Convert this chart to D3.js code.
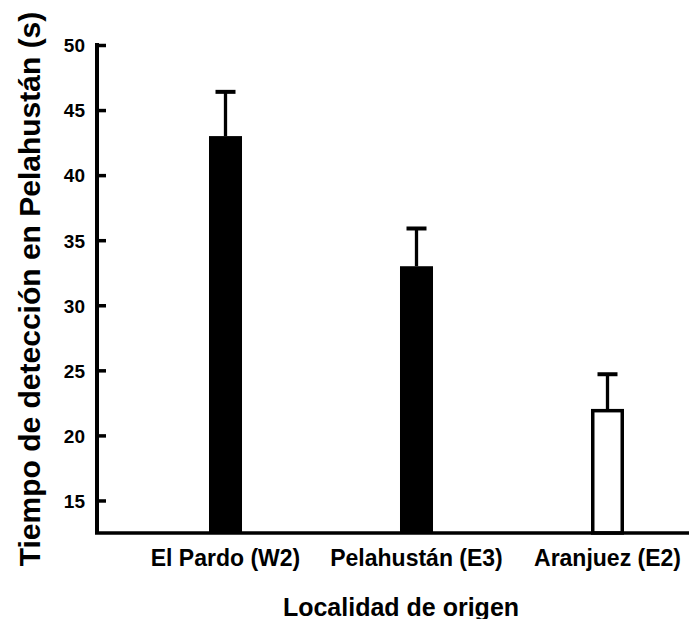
<!DOCTYPE html>
<html>
<head>
<meta charset="utf-8">
<script src="https://cdn.jsdelivr.net/npm/d3@7"></script>
<style>
  html, body { margin: 0; padding: 0; background: #fff; }
  svg { display: block; }
  text { font-family: "Liberation Sans", Arial, sans-serif; font-weight: bold; fill: #000; }
</style>
</head>
<body>
<svg id="chart" width="689" height="619"></svg>
<script>
// ---- data ----
const categories = ["El Pardo (W2)", "Pelahustán (E3)", "Aranjuez (E2)"];
const means = [43.0, 33.0, 21.9];
const errors = [3.4, 2.9, 2.8];
const filled = [true, true, false];
const yTicks = [15, 20, 25, 30, 35, 40, 45, 50];
const yDomain = [12.5, 50];
const xTitle = "Localidad de origen";
const yTitle = "Tiempo de detección en Pelahustán (s)";

// ---- layout ----
const svg = d3.select("#chart");
const axisX = 97, axisY = 533, topY = 45, rightX = 689;

const y = d3.scaleLinear().domain(yDomain).range([axisY, topY]);
const x = d3.scaleBand().domain(categories).range([130, 703])
  .paddingInner(0.8272).paddingOuter(0.4136).align(0.5);

const rows = categories.map((c, i) => ({ c, m: means[i], e: errors[i], f: filled[i] }));

// bars
const sw = 3.5;
svg.append("g").selectAll("rect").data(rows).join("rect")
  .attr("x", d => d.f ? x(d.c) : x(d.c) + sw / 2)
  .attr("width", d => d.f ? x.bandwidth() : x.bandwidth() - sw)
  .attr("y", d => y(d.m))
  .attr("height", d => y(yDomain[0]) - y(d.m))
  .attr("fill", d => d.f ? "#000" : "#fff")
  .attr("stroke", d => d.f ? "none" : "#000")
  .attr("stroke-width", sw);

// error bars
const eg = svg.append("g").attr("stroke", "#000");
eg.selectAll("line.stem").data(rows).join("line").attr("class", "stem")
  .attr("x1", d => x(d.c) + x.bandwidth() / 2)
  .attr("x2", d => x(d.c) + x.bandwidth() / 2)
  .attr("y1", d => y(d.m))
  .attr("y2", d => y(d.m + d.e))
  .attr("stroke-width", 3.3);
eg.selectAll("line.cap").data(rows).join("line").attr("class", "cap")
  .attr("x1", d => x(d.c) + x.bandwidth() / 2 - 10)
  .attr("x2", d => x(d.c) + x.bandwidth() / 2 + 10)
  .attr("y1", d => y(d.m + d.e))
  .attr("y2", d => y(d.m + d.e))
  .attr("stroke-width", 4);

// y axis
const ya = svg.append("g").attr("transform", `translate(${axisX},0)`)
  .call(d3.axisLeft(y).tickValues(yTicks).tickSizeInner(-9).tickSizeOuter(0).tickPadding(12));
ya.select(".domain").attr("stroke-width", 4).attr("d", `M0,${topY - 2}V${axisY}`);
ya.selectAll(".tick line").attr("stroke-width", 3.5);
ya.selectAll(".tick text").style("font-size", "19px").attr("dy", "0.36em");

// x axis
const xa = svg.append("g").attr("transform", `translate(0,${axisY})`)
  .call(d3.axisBottom(x).tickSize(0).tickPadding(0));
xa.select(".domain").attr("stroke-width", 3.5).attr("d", `M${axisX - 2},0H${rightX}`);
xa.selectAll(".tick text").style("font-size", "23px").attr("y", 33).attr("dy", 0);

// titles
svg.append("text").attr("x", 401).attr("y", 616).attr("text-anchor", "middle")
  .style("font-size", "25px").text(xTitle);
svg.append("text").attr("transform", "translate(40,289) rotate(-90)")
  .attr("text-anchor", "middle").style("font-size", "30px").text(yTitle);
</script>
</body>
</html>
